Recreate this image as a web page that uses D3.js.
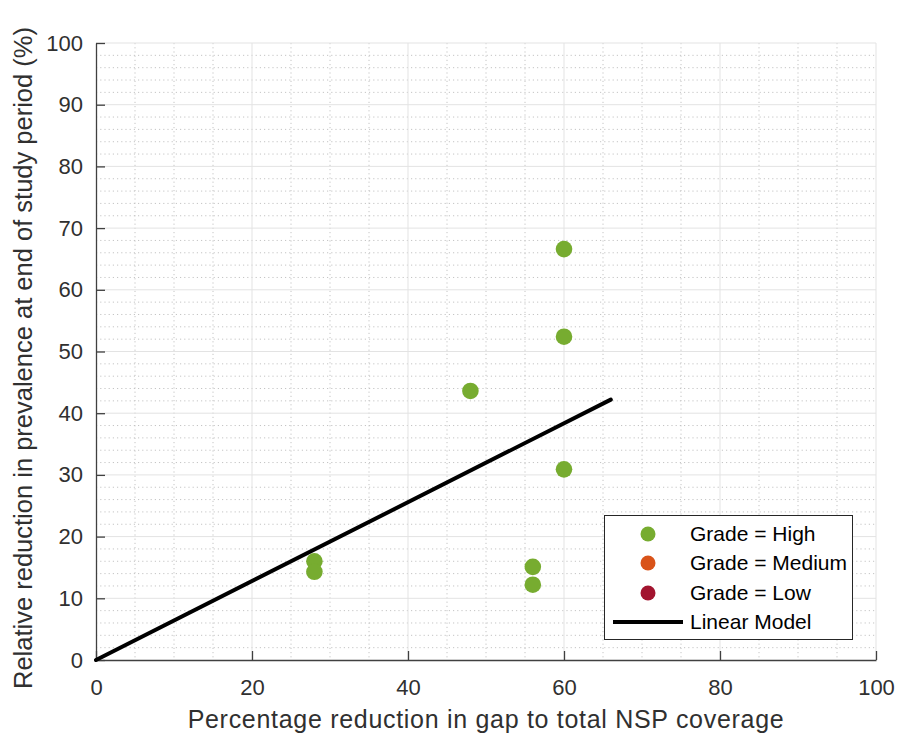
<!DOCTYPE html>
<html>
<head>
<meta charset="utf-8">
<script src="https://cdn.jsdelivr.net/npm/d3@7"></script>
<style>
  html, body { margin: 0; padding: 0; background: #fff; }
  text { font-family: "Liberation Sans", Arial, Helvetica, sans-serif; }
</style>
</head>
<body>
<svg id="chart" width="902" height="736"></svg>
<script>
// Study results: gap reduction (x) vs relative prevalence reduction (y), all Grade = High
const gapReduction = [28, 28, 48, 56, 56, 60, 60, 60];
const prevalenceReduction = [16.0, 14.3, 43.6, 15.1, 12.2, 66.6, 52.4, 30.9];
const grades = ["High", "High", "High", "High", "High", "High", "High", "High"];

// Fitted linear model through the origin
const modelX = [0, 66];
const modelY = [0, 42.2];

const xTicks = [0, 20, 40, 60, 80, 100];
const yTicks = [0, 10, 20, 30, 40, 50, 60, 70, 80, 90, 100];
const legendItems = ["Grade = High", "Grade = Medium", "Grade = Low", "Linear Model"];
const gradeColors = { High: "#77AC30", Medium: "#D95319", Low: "#A2142F" };

const svg = d3.select("#chart");
const plotLeft = 96, plotRight = 876, plotTop = 43, plotBottom = 660;

const x = d3.scaleLinear().domain([0, 100]).range([plotLeft, plotRight]);
const y = d3.scaleLinear().domain([0, 100]).range([plotBottom, plotTop]);

// Minor grid (dotted)
const g = svg.append("g");
g.selectAll("line.xminor").data(d3.range(0, 101, 5).filter(v => v % 20 !== 0))
  .join("line").attr("class", "xminor")
  .attr("x1", d => x(d)).attr("x2", d => x(d)).attr("y1", plotTop).attr("y2", plotBottom)
  .attr("stroke", "#c4c4c4").attr("stroke-width", 1).attr("stroke-dasharray", "1.2,3");
g.selectAll("line.yminor").data(d3.range(0, 101, 2).filter(v => v % 10 !== 0))
  .join("line").attr("class", "yminor")
  .attr("x1", plotLeft).attr("x2", plotRight).attr("y1", d => y(d)).attr("y2", d => y(d))
  .attr("stroke", "#c4c4c4").attr("stroke-width", 1).attr("stroke-dasharray", "1.2,3");

// Major grid (solid light)
g.selectAll("line.xmajor").data(xTicks.filter(v => v > 0))
  .join("line").attr("class", "xmajor")
  .attr("x1", d => x(d)).attr("x2", d => x(d)).attr("y1", plotTop).attr("y2", plotBottom)
  .attr("stroke", "#e3e3e3").attr("stroke-width", 1);
g.selectAll("line.ymajor").data(yTicks.filter(v => v > 0))
  .join("line").attr("class", "ymajor")
  .attr("x1", plotLeft).attr("x2", plotRight).attr("y1", d => y(d)).attr("y2", d => y(d))
  .attr("stroke", "#e3e3e3").attr("stroke-width", 1);

// Axes with inward ticks
const xAxis = svg.append("g").attr("transform", `translate(0,${plotBottom})`)
  .call(d3.axisBottom(x).tickValues(xTicks).tickSize(-9).tickPadding(19).tickSizeOuter(0));
const yAxis = svg.append("g").attr("transform", `translate(${plotLeft},0)`)
  .call(d3.axisLeft(y).tickValues(yTicks).tickSize(-9).tickPadding(13).tickSizeOuter(0));
[xAxis, yAxis].forEach(a => {
  a.select(".domain").attr("stroke", "#404040").attr("stroke-width", 1.3);
  a.selectAll(".tick line").attr("stroke", "#404040").attr("stroke-width", 1.3);
  a.selectAll(".tick text").attr("fill", "#303030").style("font-size", "22px")
    .style("font-family", '"Liberation Sans", Arial, sans-serif');
});

// Linear model line
svg.append("path")
  .datum(modelX.map((v, i) => [v, modelY[i]]))
  .attr("d", d3.line().x(d => x(d[0])).y(d => y(d[1])))
  .attr("fill", "none").attr("stroke", "#000").attr("stroke-width", 4)
  .attr("stroke-linecap", "round");

// Data points
svg.selectAll("circle.pt").data(gapReduction.map((v, i) => ({ x: v, y: prevalenceReduction[i], g: grades[i] })))
  .join("circle").attr("class", "pt")
  .attr("cx", d => x(d.x)).attr("cy", d => y(d.y)).attr("r", 8.3)
  .attr("fill", d => gradeColors[d.g]);

// Axis titles
svg.append("text").attr("x", (plotLeft + plotRight) / 2).attr("y", 728)
  .attr("text-anchor", "middle").attr("fill", "#303030").style("font-size", "25px")
  .style("letter-spacing", "0.7px")
  .text("Percentage reduction in gap to total NSP coverage");
svg.append("text").attr("transform", `translate(32,358) rotate(-90)`)
  .attr("text-anchor", "middle").attr("fill", "#303030").style("font-size", "25.5px")
  .text("Relative reduction in prevalence at end of study period (%)");

// Legend
const lg = svg.append("g");
lg.append("rect").attr("x", 604.5).attr("y", 515.5).attr("width", 248).attr("height", 124)
  .attr("fill", "#fff").attr("stroke", "#262626").attr("stroke-width", 1);
const rowY = [534, 563, 593, 622];
legendItems.forEach((label, i) => {
  if (i < 3) {
    lg.append("circle").attr("cx", 648).attr("cy", rowY[i]).attr("r", 7.5)
      .attr("fill", gradeColors[["High", "Medium", "Low"][i]]);
  } else {
    lg.append("line").attr("x1", 613).attr("x2", 683).attr("y1", rowY[i]).attr("y2", rowY[i])
      .attr("stroke", "#000").attr("stroke-width", 4);
  }
  lg.append("text").attr("x", 690).attr("y", rowY[i]).attr("dy", "0.35em")
    .attr("fill", "#000").style("font-size", "21px").text(label);
});
</script>
</body>
</html>
